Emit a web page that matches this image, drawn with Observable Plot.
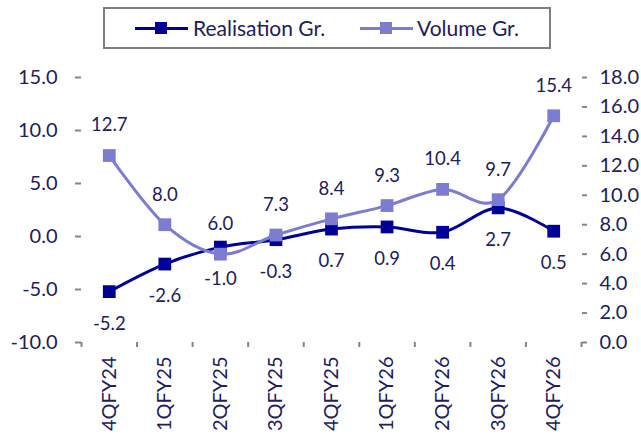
<!DOCTYPE html>
<html><head><meta charset="utf-8">
<script src="https://cdn.jsdelivr.net/npm/d3@7"></script>
<script src="https://cdn.jsdelivr.net/npm/@observablehq/plot@0.6"></script>
<style>
body{margin:0;background:#fff;}
#wrap{position:relative;width:641px;height:437px;font-family:Lato,sans-serif;color:#20205c;overflow:hidden;}
#wrap svg{position:absolute;left:0;top:0;}
.lg{position:absolute;}
#box{left:103px;top:7px;width:444px;height:38px;border:2px solid #7f7f7f;background:#fff;}
.ln{height:3px;top:27px;width:53px;}
.sq{width:12px;height:12px;top:22px;}
.tx{top:16px;height:24px;line-height:24px;font-size:21px;white-space:nowrap;}
</style></head>
<body>
<div id="wrap">
  <div id="box" class="lg"></div>
</div>
<script>
const categories = ["4QFY24","1QFY25","2QFY25","3QFY25","4QFY25","1QFY26","2QFY26","3QFY26","4QFY26"];
const realisation = [-5.2, -2.6, -1.0, -0.3, 0.7, 0.9, 0.4, 2.7, 0.5];
const volume = [12.7, 8.0, 6.0, 7.3, 8.4, 9.3, 10.4, 9.7, 15.4];
const leftTicks = [-10, -5, 0, 5, 10, 15];
const rightTicks = [0, 2, 4, 6, 8, 10, 12, 14, 16, 18];
const seriesNames = ["Realisation Gr.", "Volume Gr."];

const dark = "#000099", light = "#7c7cd0", textC = "#20205c", axisC = "#858585";
const leftDom = [-10, 15], rightDom = [0, 18];
const toLeft = v => leftDom[0] + (v - rightDom[0]) * (leftDom[1] - leftDom[0]) / (rightDom[1] - rightDom[0]);
const toRight = y => rightDom[0] + (y - leftDom[0]) * (rightDom[1] - rightDom[0]) / (leftDom[1] - leftDom[0]);

const data = categories.map((c, i) => ({i, c, real: realisation[i], vol: volume[i], volL: toLeft(volume[i])}));
const fam = "Lato, sans-serif";

const chart = Plot.plot({
  width: 641, height: 437,
  marginTop: 77, marginBottom: 95, marginLeft: 81, marginRight: 60,
  style: {fontFamily: fam, fontSize: "20px", color: textC, background: "transparent"},
  x: {domain: [-0.5, categories.length - 0.5], axis: null},
  y: {domain: leftDom, axis: null},
  marks: [
    Plot.axisY({anchor: "left", ticks: leftTicks, tickSize: 6, tickPadding: 18, tickFormat: d => d.toFixed(1), stroke: axisC, strokeWidth: 2, fill: textC, line: true, label: null, fontSize: 20}),
    Plot.axisY({anchor: "right", ticks: rightTicks.map(toLeft), tickSize: 5, tickPadding: 13, tickFormat: d => toRight(d).toFixed(1), stroke: axisC, strokeWidth: 2, fill: textC, line: true, label: null, fontSize: 20, textAnchor: "start"}),
    Plot.axisX({ticks: d3.range(-0.5, categories.length, 1), tickSize: 5, tickFormat: () => "", stroke: axisC, strokeWidth: 2, line: true, label: null}),
    Plot.axisX({ticks: d3.range(categories.length), tickSize: 0, tickPadding: 14, tickRotate: -90, tickFormat: i => categories[i], fill: textC, label: null, fontSize: 20}),
    Plot.line(data, {x: "i", y: "real", curve: "cardinal", stroke: dark, strokeWidth: 3}),
    Plot.dot(data, {x: "i", y: "real", symbol: "square", r: 7.2, fill: dark, stroke: null}),
    Plot.line(data, {x: "i", y: "volL", curve: "cardinal", stroke: light, strokeWidth: 3}),
    Plot.dot(data, {x: "i", y: "volL", symbol: "square", r: 7.2, fill: light, stroke: null}),
    Plot.text(data, {x: "i", y: "real", text: d => d.real.toFixed(1), dy: 32, fill: textC, fontSize: 18.5}),
    Plot.text(data, {x: "i", y: "volL", text: d => d.vol.toFixed(1), dy: -30, fill: textC, fontSize: 18.5})
  ]
});
const wrap = document.getElementById("wrap");
wrap.insertBefore(chart, wrap.firstChild);

const items = [
  {name: seriesNames[0], color: dark, lineX: 135, textX: 193},
  {name: seriesNames[1], color: light, lineX: 360, textX: 417}
];
items.forEach(it => {
  const l = document.createElement("div"); l.className = "lg ln"; l.style.left = it.lineX + "px"; l.style.background = it.color; wrap.appendChild(l);
  const s = document.createElement("div"); s.className = "lg sq"; s.style.left = (it.lineX + 20) + "px"; s.style.background = it.color; wrap.appendChild(s);
  const t = document.createElement("div"); t.className = "lg tx"; t.style.left = it.textX + "px"; t.textContent = it.name; wrap.appendChild(t);
});
</script>
</body></html>
